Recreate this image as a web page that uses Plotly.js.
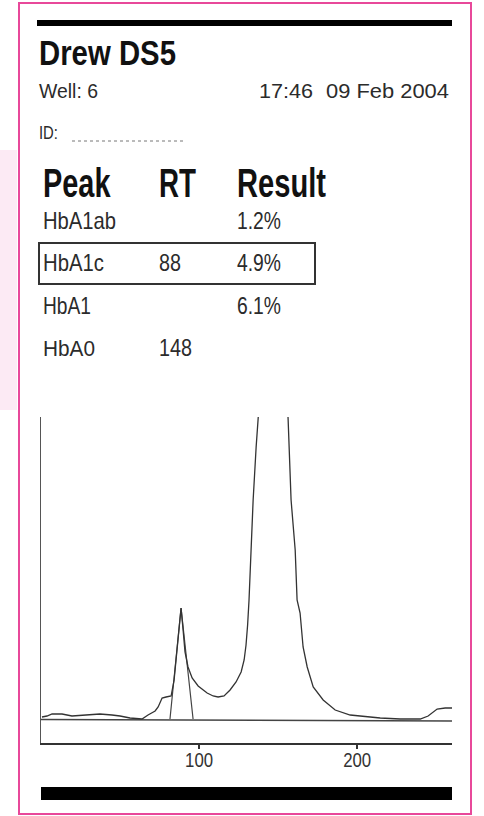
<!DOCTYPE html>
<html>
<head>
<meta charset="utf-8">
<script src="https://cdn.plot.ly/plotly-3.0.1.min.js"></script>
<style>
html,body{margin:0;padding:0;background:#fff;}
#chart{width:484px;height:816px;}
</style>
</head>
<body>
<div id="chart"></div>
<script>
// ---- Data (retention time vs detector signal, arbitrary units) ----
const traceRT = [0.6, 3.8, 7.0, 13.3, 19.6, 27.8, 37.3, 44.9, 50.0, 56.3, 60.8, 63.9, 67.7, 72.2, 74.1, 76.6, 79.1, 82.3, 84.2, 86.1, 87.3, 88.6, 89.9, 91.1, 93.0, 95.6, 99.4, 105.1, 108.9, 112.0, 115.8, 119.6, 123.4, 126.6, 128.5, 129.7, 130.7, 131.6, 132.9, 134.2, 136.1, 137.3, 140.0, 148.0, 154.0, 156.3, 157.0, 158.2, 160.8, 162.0, 163.9, 165.8, 168.4, 172.2, 178.5, 186.1, 195.6, 206.3, 214.6, 227.2, 239.9, 244.9, 250.6, 255.7, 260.1];
const traceSignal = [2.5, 3.5, 5.5, 5.5, 3.5, 4.5, 5.5, 4.5, 3.5, 1.5, 0.5, 0.5, 4.5, 8.5, 12.5, 21.5, 22.5, 23.5, 39.5, 69.5, 94.5, 111.5, 89.5, 67.5, 52.5, 41.5, 33.5, 26.5, 23.5, 22.5, 23.5, 29.5, 37.5, 47.5, 59.5, 74.5, 94.5, 119.5, 169.5, 219.5, 272.5, 301.5, 360, 420, 360, 301.5, 272.5, 219.5, 169.5, 119.5, 106.5, 72.5, 52.5, 32.5, 19.5, 9.5, 4.5, 2.5, 1.5, 0.5, 0.5, 3.5, 10.5, 11.5, 11.5];
// HbA1c integration triangle (start, apex, end)
const hba1cRT = [81.6, 88.6, 96.2];
const hba1cSignal = [0.5, 111.5, 0.5];
// Integration baseline
const baselineRT = [0, 260];
const baselineSignal = [0, -1.5];
const xTicks = [100, 200];
const xTickLabels = ['100', '200'];

// ---- Report texts ----
const instrument = 'Drew DS5';
const wellLabel = 'Well: 6';
const timeLabel = '17:46';
const dateLabel = '09 Feb 2004';
const idLabel = 'ID:';
const headers = ['Peak', 'RT', 'Result'];
const peakNames = ['HbA1ab', 'HbA1c', 'HbA1', 'HbA0'];
const peakRT = ['', '88', '', '148'];
const peakResult = ['1.2%', '4.9%', '6.1%', ''];

// ---- Geometry helpers (pixel -> paper) ----
const W = 484, H = 816;
const M = {l: 41, r: 32, t: 417, b: 73};
const PW = W - M.l - M.r, PH = H - M.t - M.b;
const px = x => (x - M.l) / PW;
const py = y => (H - M.b - y) / PH;

const FONT = "'Liberation Sans', Arial, sans-serif";
const INK = '#2b2b2b';

const traces = [
  {x: baselineRT, y: baselineSignal, mode: 'lines', line: {color: '#444', width: 1.5}, hoverinfo: 'skip', showlegend: false},
  {x: hba1cRT, y: hba1cSignal, mode: 'lines', line: {color: '#444', width: 1.2}, hoverinfo: 'skip', showlegend: false},
  {x: traceRT, y: traceSignal, mode: 'lines', line: {color: '#333', width: 1.3}, hoverinfo: 'skip', showlegend: false}
];

// annotations + target rendered widths (condensed look)
const ann = [];
const annWidth = [];
function txt(text, x, y, size, width, opts) {
  ann.push(Object.assign({
    text: text, x: px(x), y: py(y), xref: 'paper', yref: 'paper',
    xanchor: 'left', yanchor: 'middle', showarrow: false, borderpad: 0,
    font: {family: FONT, size: size, color: INK}
  }, opts || {}));
  annWidth.push(width);
}
const bold = (s) => ({font: {family: FONT, size: s, color: '#111', weight: 'bold'}});
txt(instrument, 38, 53, 35, 137, bold(35));
txt(wellLabel, 38, 90.5, 20, 59);
txt(timeLabel, 258, 90.5, 20, 54);
txt(dateLabel, 325, 90.5, 20, 123);
txt(idLabel, 38, 132, 19, 19);
const colX = [42, 158, 236];
const headW = [68, 37, 89];
headers.forEach((h, i) => txt(h, colX[i], 182.5, 40, headW[i], bold(40)));
const rowY = [220.5, 262.5, 306, 347.5];
const nameW = [73, 61, 48, 52];
const rtW = {'88': 22, '148': 33};
peakNames.forEach((n, i) => {
  txt(n, colX[0], rowY[i], 23, nameW[i]);
  if (peakRT[i]) txt(peakRT[i], colX[1], rowY[i], 23, rtW[peakRT[i]]);
  if (peakResult[i]) txt(peakResult[i], colX[2], rowY[i], 23, 44);
});

const shapes = [
  // pink page border
  {type: 'rect', xref: 'paper', yref: 'paper', x0: px(19), x1: px(471), y0: py(3), y1: py(814), line: {color: '#e8489a', width: 2}},
  // faint pink smudge left of border
  {type: 'rect', xref: 'paper', yref: 'paper', x0: px(0), x1: px(17), y0: py(150), y1: py(410), line: {width: 0}, fillcolor: 'rgba(240,160,205,0.22)'},
  // top black bar
  {type: 'rect', xref: 'paper', yref: 'paper', x0: px(37), x1: px(452), y0: py(20), y1: py(26), line: {width: 0}, fillcolor: '#000'},
  // bottom black bar
  {type: 'rect', xref: 'paper', yref: 'paper', x0: px(41), x1: px(452), y0: py(787), y1: py(800), line: {width: 0}, fillcolor: '#000'},
  // HbA1c highlight box
  {type: 'rect', xref: 'paper', yref: 'paper', x0: px(39), x1: px(315), y0: py(243), y1: py(284), line: {color: '#333', width: 2}},
  // dotted ID line
  {type: 'line', xref: 'paper', yref: 'paper', x0: px(72), x1: px(183), y0: py(141), y1: py(141), line: {color: '#777', width: 1, dash: 'dot'}}
];

const layout = {
  width: W, height: H,
  margin: M,
  paper_bgcolor: '#fff', plot_bgcolor: '#fff',
  showlegend: false,
  xaxis: {
    range: [0, 260], showgrid: false, zeroline: false,
    showline: true, linecolor: '#333', linewidth: 1.5,
    ticks: 'outside', ticklen: 4, tickwidth: 1.5, tickcolor: '#333',
    tickvals: xTicks, ticktext: xTickLabels,
    tickfont: {family: FONT, size: 21, color: '#333'}
  },
  yaxis: {
    range: [-23.5, 302.5], showgrid: false, zeroline: false,
    showline: true, linecolor: '#555', linewidth: 1.3,
    showticklabels: false, ticks: ''
  },
  annotations: ann,
  shapes: shapes
};

function squeeze(el, target, anchor) {
  const bb = el.getBBox();
  if (!bb.width) return;
  const s = target ? target / bb.width : anchor.s;
  const L = anchor.mode === 'center' ? bb.x + bb.width / 2 : bb.x;
  const dy = anchor.dy || 0;
  const prev = el.getAttribute('transform') || '';
  el.setAttribute('transform', prev + ' translate(' + L + ',' + dy + ') scale(' + s + ',1) translate(' + (-L) + ',0)');
}

Plotly.newPlot('chart', traces, layout, {staticPlot: true, displayModeBar: false}).then(gd => {
  gd.querySelectorAll('.annotation').forEach(g => {
    const i = +g.getAttribute('data-index');
    const t = g.querySelector('text');
    if (t) squeeze(t, annWidth[i], {mode: 'left'});
  });
  gd.querySelectorAll('.xtick text').forEach(t => squeeze(t, 0, {mode: 'center', s: 0.8, dy: -7}));
});
</script>
</body>
</html>
